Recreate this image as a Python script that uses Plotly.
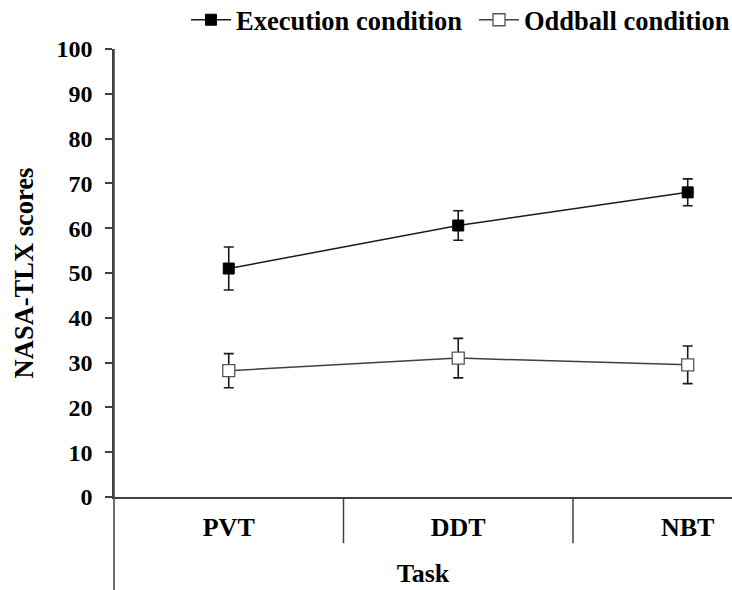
import plotly.graph_objects as go

# Mean NASA-TLX workload scores per task, with error bar half-widths
tasks = ["PVT", "DDT", "NBT"]
execution_mean = [51.0, 60.6, 68.0]
execution_err = [4.8, 3.3, 3.0]
oddball_mean = [28.2, 31.0, 29.5]
oddball_err = [3.8, 4.4, 4.2]
y_ticks = [0, 10, 20, 30, 40, 50, 60, 70, 80, 90, 100]

FONT = "Liberation Serif"
INK = "#1a1a1a"
AXIS = "#404040"
W, H = 732, 590

fig = go.Figure()

fig.add_trace(go.Scatter(
    x=[0, 1, 2], y=execution_mean, name="<b>Execution condition</b>",
    mode="lines+markers", legend="legend",
    line=dict(color=INK, width=1.5),
    marker=dict(symbol="square", size=11, color="black", line=dict(color="black", width=1)),
    error_y=dict(type="data", array=execution_err, visible=True, color=INK, thickness=1.6, width=5),
))
fig.add_trace(go.Scatter(
    x=[0, 1, 2], y=oddball_mean, name="<b>Oddball condition</b>",
    mode="lines+markers", legend="legend2",
    line=dict(color=AXIS, width=1.5),
    marker=dict(symbol="square", size=12, color="white", line=dict(color="#555555", width=1.3)),
    error_y=dict(type="data", array=oddball_err, visible=True, color=INK, thickness=1.6, width=5),
))

# Category separators hanging below the baseline, and the extended y axis line
shapes = []
for xb in [0.5, 1.5]:
    shapes.append(dict(type="line", xref="x", yref="paper", x0=xb, x1=xb, y0=0, y1=-0.103,
                       line=dict(color=AXIS, width=1.5)))
shapes.append(dict(type="line", xref="paper", yref="paper", x0=0, x1=0, y0=-0.21, y1=1,
                   line=dict(color=AXIS, width=1.5)))

legend_common = dict(orientation="h", yanchor="middle", y=1 - 20 / H,
                     xref="container", yref="container", xanchor="left",
                     font=dict(family=FONT, size=26.5, color="black"),
                     itemwidth=40, bgcolor="rgba(0,0,0,0)", borderwidth=0)

fig.update_layout(
    width=W, height=H,
    margin=dict(l=114, r=0, t=49, b=93, autoexpand=False),
    paper_bgcolor="white", plot_bgcolor="white",
    font=dict(family=FONT, size=25, color="black"),
    showlegend=True,
    legend=dict(x=186 / W, **legend_common),
    legend2=dict(x=474 / W, **legend_common),
    shapes=shapes,
    xaxis=dict(
        range=[-0.5, 2.193], tickmode="array", tickvals=[0, 1, 2],
        ticktext=[f"<b>{t}</b>" for t in tasks],
        showline=True, linecolor=AXIS, linewidth=1.5, ticks="",
        showgrid=False, zeroline=False, ticklabelstandoff=6,
        tickfont=dict(family=FONT, size=26),
        title=dict(text="<b>Task</b>", font=dict(family=FONT, size=26), standoff=23),
    ),
    yaxis=dict(
        range=[0, 100], tickmode="array", tickvals=y_ticks,
        ticktext=[f"<b>{v}</b>" for v in y_ticks],
        showline=True, linecolor=AXIS, linewidth=1.5,
        ticks="outside", ticklen=7, tickcolor=AXIS, tickwidth=1.5,
        showgrid=False, zeroline=False, ticklabelstandoff=8,
        tickfont=dict(family=FONT, size=24),
        title=dict(text="<b>NASA-TLX scores</b>", font=dict(family=FONT, size=26.5), standoff=15),
    ),
)

fig.write_html("out.html")
